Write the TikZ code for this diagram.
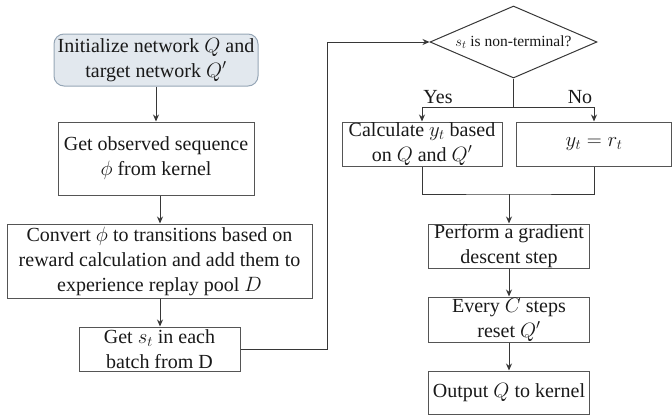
\documentclass[tikz,border=0pt]{standalone}
\usepackage{fontspec}
\setmainfont{Liberation Serif}
\usetikzlibrary{shapes.geometric,arrows.meta}
\definecolor{startfill}{RGB}{226,232,238}
\definecolor{startdraw}{RGB}{150,166,182}
\definecolor{linegray}{RGB}{55,55,55}
\begin{document}
\begin{tikzpicture}[x=1pt, y=-1pt,
      every node/.style={font=\fontsize{20}{25}\selectfont, align=center, inner sep=0pt, text=black!90},
      box/.style={draw=linegray!85, line width=1pt},
      start/.style={box, draw=startdraw, fill=startfill, rounded corners=10pt},
      decision/.style={diamond, draw=linegray, line width=1pt, aspect=2.32, font=\fontsize{15.5}{18}\selectfont},
      arr/.style={draw=linegray, line width=1pt, -{Stealth[length=7pt, width=6pt]}},
      link/.style={draw=linegray, line width=1pt}
    ]
    \useasboundingbox (0,0) rectangle (672,415);
    % left column
    \node[start, minimum width=204pt, minimum height=52pt] (init) at (156,60)
      {Initialize network $Q$ and\\ target network $Q'$};
    \node[box, minimum width=196pt, minimum height=73pt] (observe) at (156,158.5)
      {Get observed sequence\\ $\phi$ from kernel};
    \node[box, minimum width=305pt, minimum height=74pt] (convert) at (159.5,261)
      {Convert $\phi$ to transitions based on\\ reward calculation and add them to\\ experience replay pool $D$};
    \node[box, minimum width=161pt, minimum height=44pt] (batch) at (159.5,349)
      {Get $s_t$ in each\\ batch from D};
    % right column
    \node[decision, minimum width=167pt, minimum height=72pt] (check) at (513.5,42)
      {$s_t$ is non-terminal?};
    \node[box, minimum width=160pt, minimum height=44pt] (calc) at (422,144)
      {Calculate $y_t$ based\\ on $Q$ and $Q'$};
    \node[box, minimum width=155pt, minimum height=44pt] (reward) at (594,144)
      {$y_t = r_t$};
    \node[box, minimum width=161pt, minimum height=44pt] (grad) at (509,246)
      {Perform a gradient\\ descent step};
    \node[box, minimum width=161pt, minimum height=45pt] (reset) at (509,319.5)
      {Every $C$ steps\\ reset $Q'$};
    \node[box, minimum width=161pt, minimum height=43pt] (output) at (509,392.5)
      {Output $Q$ to kernel};
    \node (yes) at (438,97) {Yes};
    \node (no) at (580,97) {No};
    \coordinate (split) at (513.5,107);
    \coordinate (merge) at (509,194);
    % connectors
    \draw[arr] (init) -- (observe);
    \draw[arr] (observe.south -| 160,0) -- (convert.north -| 160,0);
    \draw[arr] (convert.south -| 160,0) -- (batch.north -| 160,0);
    \draw[arr] (batch.east) -- (327,349) |- (check.west);
    \draw[link] (check.south) -- (split);
    \draw[arr] (split) -| (calc.north);
    \draw[arr] (split) -| (reward.north);
    \draw[link] (calc.south) |- (merge) -| (reward.south);
    \draw[arr] (merge) -- (grad.north);
    \draw[arr] (grad) -- (reset);
    \draw[arr] (reset) -- (output);
\end{tikzpicture}
\end{document}
